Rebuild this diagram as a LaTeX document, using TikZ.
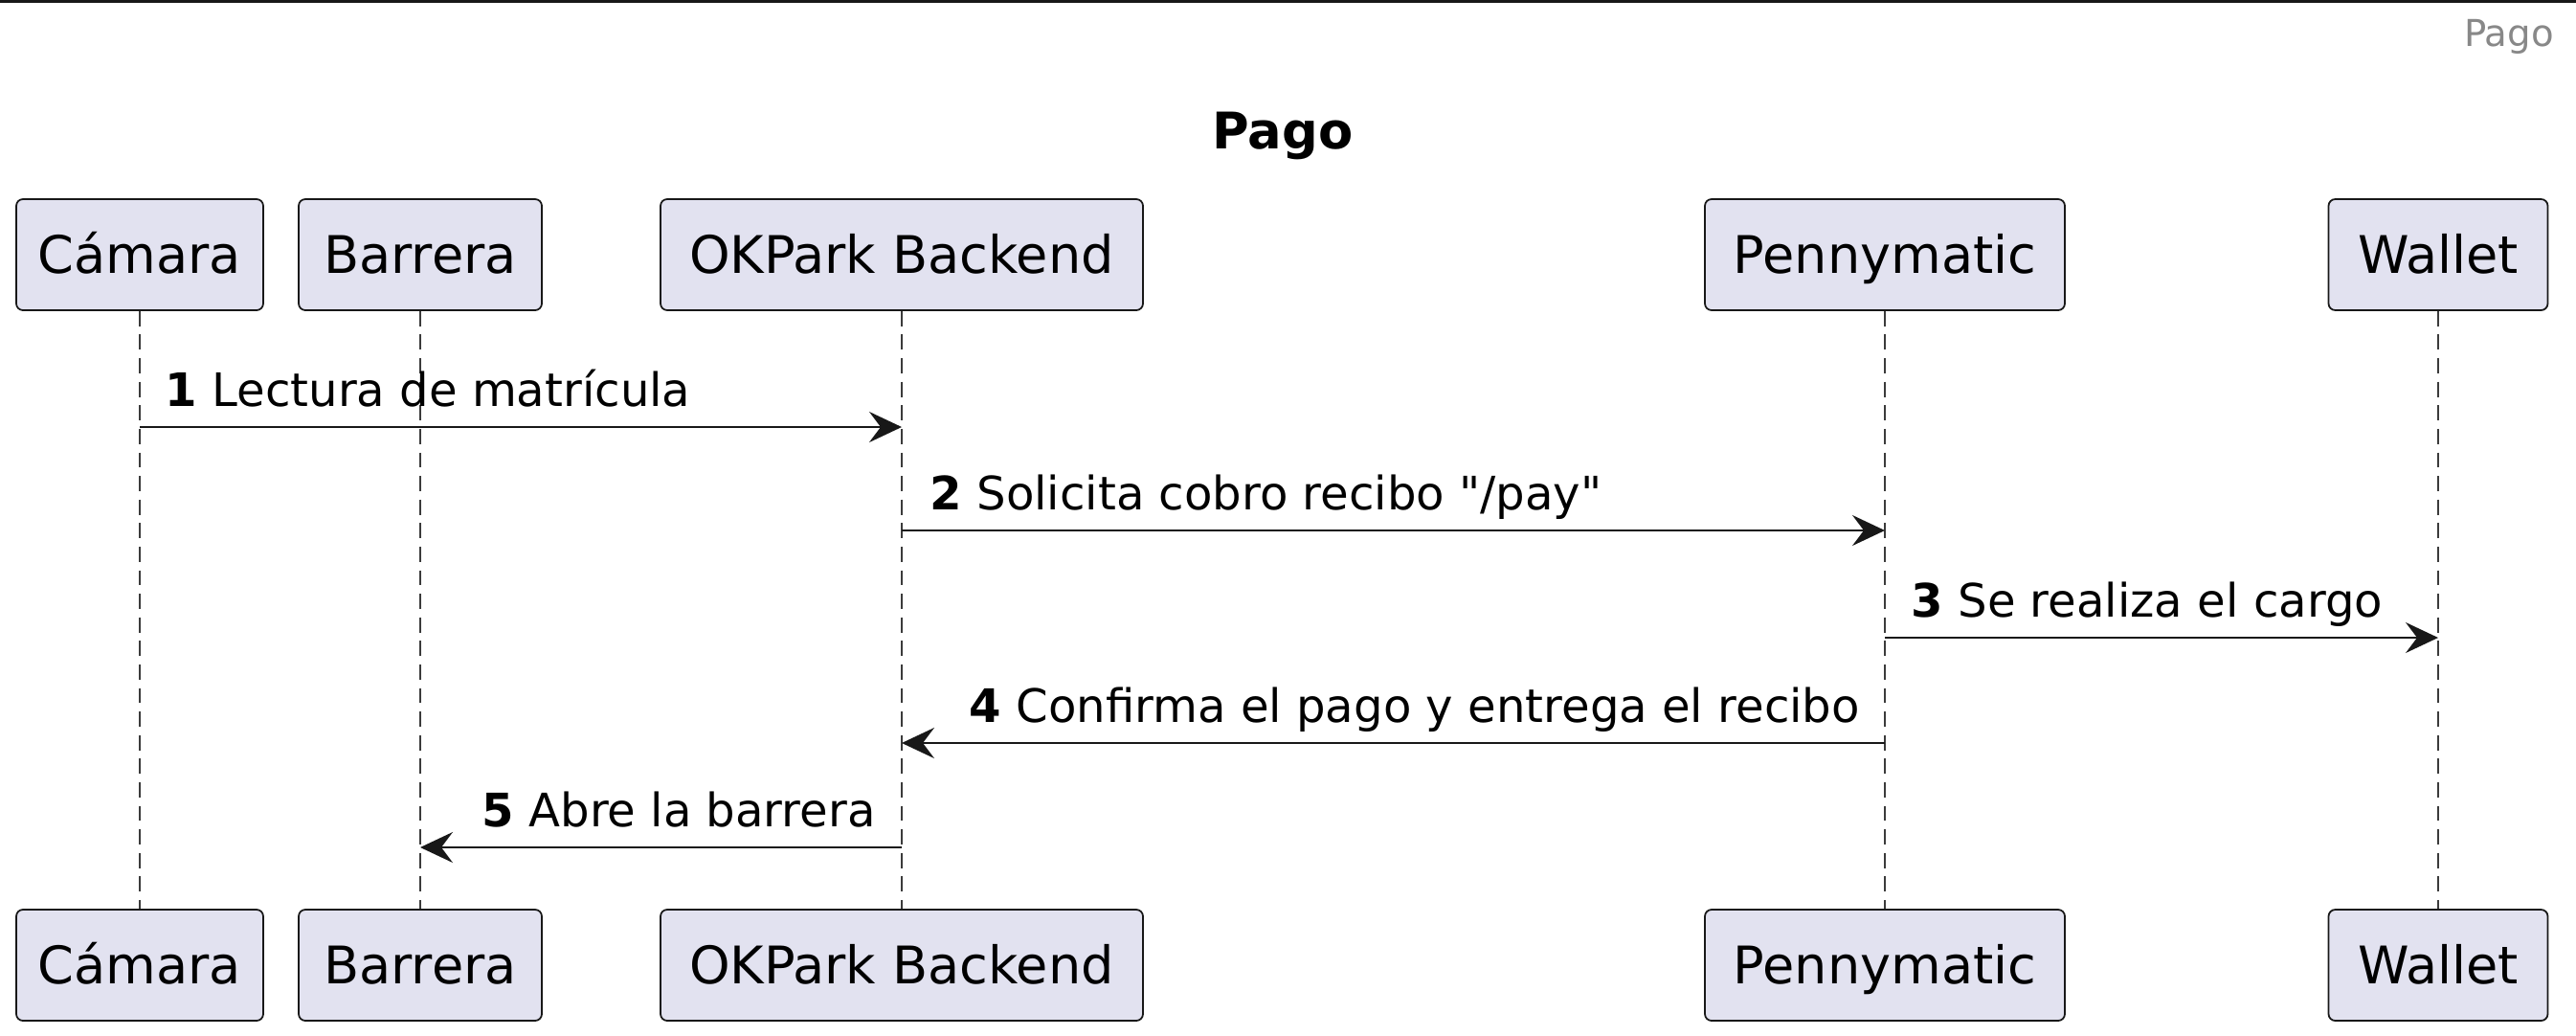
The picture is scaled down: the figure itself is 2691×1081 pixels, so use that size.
\documentclass[tikz,border=0pt]{standalone}
\usepackage{fontspec}
\setmainfont{DejaVu Sans}[Ligatures=TeXOff]
\usetikzlibrary{positioning, arrows.meta}
\definecolor{umlfill}{HTML}{E2E2F0}
\definecolor{umlline}{HTML}{181818}
\definecolor{hdrgray}{HTML}{888888}

\begin{document}
\begin{tikzpicture}[x=0.1mm, y=-0.1mm,
                  actor/.style={rectangle,rounded corners=0.7mm,draw=umlline,fill=umlfill,line width=0.5pt,
                    minimum height=11.6mm,inner xsep=0pt,text height=14.3pt,text depth=3pt,
                    font=\fontsize{15.4}{18}\selectfont},
                  life/.style={draw=umlline!85,line width=0.4pt,dash pattern=on 4.5pt off 2.5pt},
                  msg/.style={->,>={Stealth[length=3.4mm,width=3.2mm,inset=1.2mm]},draw=umlline,line width=0.6pt},
                  lbl/.style={anchor=base west,inner sep=0pt,font=\fontsize{13.7}{16}\selectfont}
                  ]
                  \useasboundingbox (0,0) rectangle (2691,1081);
                  \draw[line width=0.9pt,umlline] (0,1.5) -- (2691,1.5);
                  \node[anchor=east,text=hdrgray,font=\fontsize{11}{13}\selectfont] (hdr) at (2680,38) {Pago};
                  \node[font=\bfseries\fontsize{15}{18}\selectfont] (title) at (1340,142) {Pago};
                  % participants
                  \node[actor,minimum width=25.8mm] (camT) at (146,266)  {Cámara};
                  \node[actor,minimum width=25.4mm] (barT) at (439,266)  {Barrera};
                  \node[actor,minimum width=50.4mm] (okT)  at (942,266)  {OKPark Backend};
                  \node[actor,minimum width=37.6mm] (penT) at (1969,266) {Pennymatic};
                  \node[actor,minimum width=22.9mm] (walT) at (2547,266) {Wallet};
                  \node[actor,minimum width=25.8mm] (camB) at (146,1008)  {Cámara};
                  \node[actor,minimum width=25.4mm] (barB) at (439,1008)  {Barrera};
                  \node[actor,minimum width=50.4mm] (okB)  at (942,1008)  {OKPark Backend};
                  \node[actor,minimum width=37.6mm] (penB) at (1969,1008) {Pennymatic};
                  \node[actor,minimum width=22.9mm] (walB) at (2547,1008) {Wallet};
                  \foreach \p in {cam,bar,ok,pen,wal}
                    \draw[life] (\p T.south) -- (\p B.north);
                  % messages
                  \draw[msg] (camT.south |- 0,446) -- (okT.south |- 0,446);
                  \node[lbl] (m1) at (172,424) {\textbf{1} Lectura de matrícula};
                  \draw[msg] (okT.south |- 0,554) -- (penT.south |- 0,554);
                  \node[lbl] (m2) at (971,532) {\textbf{2} Solicita cobro recibo "/pay"};
                  \draw[msg] (penT.south |- 0,666) -- (walT.south |- 0,666);
                  \node[lbl] (m3) at (1996,644) {\textbf{3} Se realiza el cargo};
                  \draw[msg] (penT.south |- 0,776) -- (okT.south |- 0,776);
                  \node[lbl] (m4) at (1012,754) {\textbf{4} Confirma el pago y entrega el recibo};
                  \draw[msg] (okT.south |- 0,885) -- (barT.south |- 0,885);
                  \node[lbl] (m5) at (503,863) {\textbf{5} Abre la barrera};
                \end{tikzpicture}
\end{document}
